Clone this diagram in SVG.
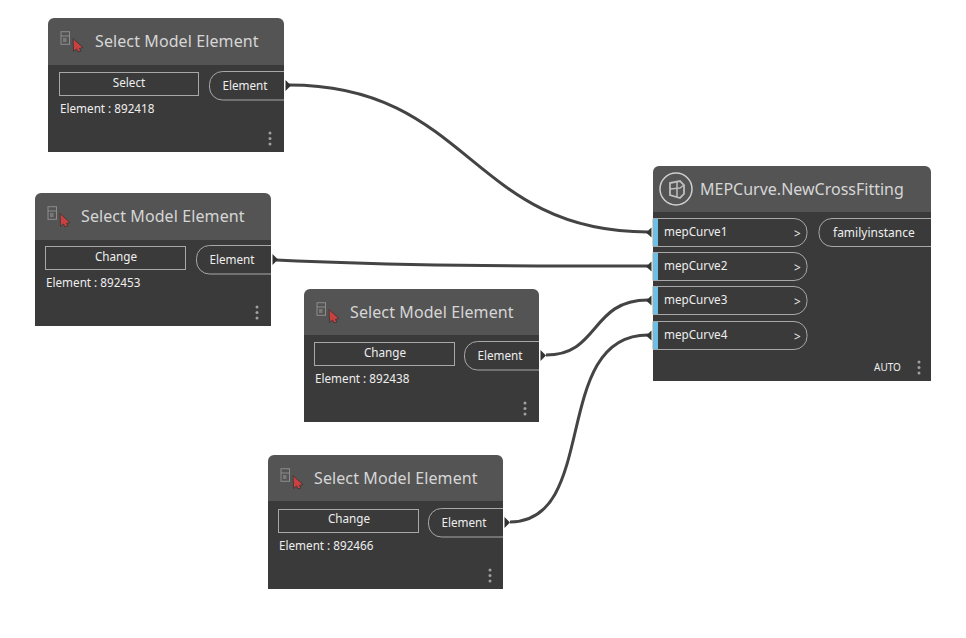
<svg xmlns="http://www.w3.org/2000/svg" width="966" height="638" viewBox="0 0 966 638">
<style>
text{font-family:"Noto Sans","Liberation Sans",sans-serif;fill:#eeeeee}
.title{font-size:16px;fill:#d6d6d6;letter-spacing:.1px}
.small{font-size:11.700px}
.mid{text-anchor:middle}
.body{fill:#3a3a3a}
.head{fill:#545454}
.stroke{fill:none;stroke:#a8a8a8;stroke-width:1}
.wire{fill:none;stroke:#444444;stroke-width:3}
.in{fill:#6ac0e7}
.dot{fill:#a0a0a0}
</style>
<defs>
<g id="pick">
<rect x="13" y="13.700" width="8.500" height="12.600" fill="none" stroke="#8c8c8c"/>
<path d="M13 18H21.500" stroke="#8c8c8c"/>
<rect x="15" y="20" width="3.500" height="4" fill="#787878"/>
<path d="M25 20.500L35 29.500L31.500 30.500L33 33L30 34L28.500 31L25.500 33.500Z" fill="#c8403f" stroke="#333" stroke-width=".8"/>
</g>
<g id="dots">
<circle cx="0" cy="0" r="1.500" class="dot"/><circle cx="0" cy="5.500" r="1.500" class="dot"/><circle cx="0" cy="11" r="1.500" class="dot"/>
</g>
<path id="selectbody" d="M0 47H236V134H0Z" class="body"/>
<path id="selecthead" d="M0 47V6a6 6 0 0 1 6-6H230a6 6 0 0 1 6 6V47Z" class="head"/>
<path id="outport" d="M236 53.500H174.500a13 13 0 0 0-13 13V69a13 13 0 0 0 13 13H236" class="stroke"/>
<path id="plug" d="M237.500 62L243 67.500L237.500 73Z" fill="#333"/>
<path id="inport" d="M0 0H141a13 13 0 0 1 13 13V15a13 13 0 0 1-13 13H0Z" class="stroke"/>
<path id="inplug" d="M-1.500 -5L-1.500 5L-7 0Z" fill="#333"/>
</defs>
<g id="connectors">
<path class="wire" d="M289 85C470 85 470 232 648 232"/>
<path class="wire" d="M276 260C400 266 520 266 648 266"/>
<path class="wire" d="M546 355C600 355 590 300 648 300"/>
<path class="wire" d="M510 522C600 522 550 335 648 335"/>
</g>
<g id="node-select-1" transform="translate(48 18)">
<use href="#selectbody"/><use href="#selecthead"/><use href="#pick"/>
<text class="title" x="47" y="29">Select Model Element</text>
<rect class="stroke" x="11.500" y="54.500" width="139" height="23"/>
<text class="small mid" x="81" y="69">Select</text>
<use href="#outport"/><use href="#plug"/>
<text class="small mid" x="197" y="72">Element</text>
<text class="small" x="12" y="95">Element : 892418</text>
<use href="#dots" transform="translate(222 115)"/>
</g>
<g id="node-select-2" transform="translate(35 193)">
<use href="#selectbody" transform="translate(0 -1)"/><use href="#selecthead"/><use href="#pick"/>
<text class="title" x="46" y="29">Select Model Element</text>
<rect class="stroke" x="10.500" y="53.500" width="140" height="23"/>
<text class="small mid" x="81" y="68">Change</text>
<use href="#outport" transform="translate(0 -1)"/><use href="#plug" transform="translate(0 -1)"/>
<text class="small mid" x="197" y="71">Element</text>
<text class="small" x="11" y="94">Element : 892453</text>
<use href="#dots" transform="translate(222 114)"/>
</g>
<g id="node-select-3" transform="translate(304 289)">
<path d="M0 46H235V133H0Z" class="body"/>
<path d="M0 46V6a6 6 0 0 1 6-6H229a6 6 0 0 1 6 6V46Z" class="head"/>
<use href="#pick"/>
<text class="title" x="46" y="29">Select Model Element</text>
<rect class="stroke" x="10.500" y="53.500" width="140" height="23"/>
<text class="small mid" x="81" y="68">Change</text>
<use href="#outport" transform="translate(-1 -1)"/><use href="#plug" transform="translate(-1 -1)"/>
<text class="small mid" x="196" y="71">Element</text>
<text class="small" x="11" y="94">Element : 892438</text>
<use href="#dots" transform="translate(221 114)"/>
</g>
<g id="node-select-4" transform="translate(268 455)">
<path d="M0 46H235V134H0Z" class="body"/>
<path d="M0 46V6a6 6 0 0 1 6-6H229a6 6 0 0 1 6 6V46Z" class="head"/>
<use href="#pick"/>
<text class="title" x="46" y="29">Select Model Element</text>
<rect class="stroke" x="10.500" y="54.500" width="140" height="23"/>
<text class="small mid" x="81" y="68">Change</text>
<use href="#outport" transform="translate(-1 0)"/><use href="#plug" transform="translate(-1 0)"/>
<text class="small mid" x="196" y="72">Element</text>
<text class="small" x="11" y="95">Element : 892466</text>
<use href="#dots" transform="translate(222 115)"/>
</g>
<g id="node-newcrossfitting" transform="translate(653 166)">
<rect x="0" y="46" width="278" height="169" class="body"/>
<path d="M0 46V6a6 6 0 0 1 6-6H272a6 6 0 0 1 6 6V46Z" class="head"/>
<circle cx="23" cy="23" r="16" fill="none" stroke="#cfcfcf" stroke-width="1.500"/>
<path d="M17 17L27 15L31 19V28L27 32L17 29Z" fill="none" stroke="#bdbdbd" stroke-width="1.800"/>
<path d="M17 23L27 22L31 19M24 16V31" fill="none" stroke="#bdbdbd" stroke-width="1.500"/>
<text class="title" x="47" y="29" style="letter-spacing:0">MEPCurve.NewCrossFitting</text>
<g id="in-1" transform="translate(0 52.500)"><rect class="in" width="5" height="28"/><use href="#inport"/><use href="#inplug" transform="translate(0 14)"/><text class="small" x="11" y="17">mepCurve1</text><text class="small" x="141" y="19">&gt;</text></g>
<g id="in-2" transform="translate(0 86.500)"><rect class="in" width="5" height="28"/><use href="#inport"/><use href="#inplug" transform="translate(0 14)"/><text class="small" x="11" y="17">mepCurve2</text><text class="small" x="141" y="19">&gt;</text></g>
<g id="in-3" transform="translate(0 120.500)"><rect class="in" width="5" height="28"/><use href="#inport"/><use href="#inplug" transform="translate(0 14)"/><text class="small" x="11" y="17">mepCurve3</text><text class="small" x="141" y="19">&gt;</text></g>
<g id="in-4" transform="translate(0 155.500)"><rect class="in" width="5" height="28"/><use href="#inport"/><use href="#inplug" transform="translate(0 14)"/><text class="small" x="11" y="17">mepCurve4</text><text class="small" x="141" y="19">&gt;</text></g>
<path class="stroke" d="M278 52.500H179a13 13 0 0 0-13 13V67.500a13 13 0 0 0 13 13H278"/>
<text class="small" x="180" y="71" style="font-size:12px">familyinstance</text>
<text x="221" y="205" style="font-size:10px">AUTO</text>
<use href="#dots" transform="translate(266 196)"/>
</g>
</svg>
